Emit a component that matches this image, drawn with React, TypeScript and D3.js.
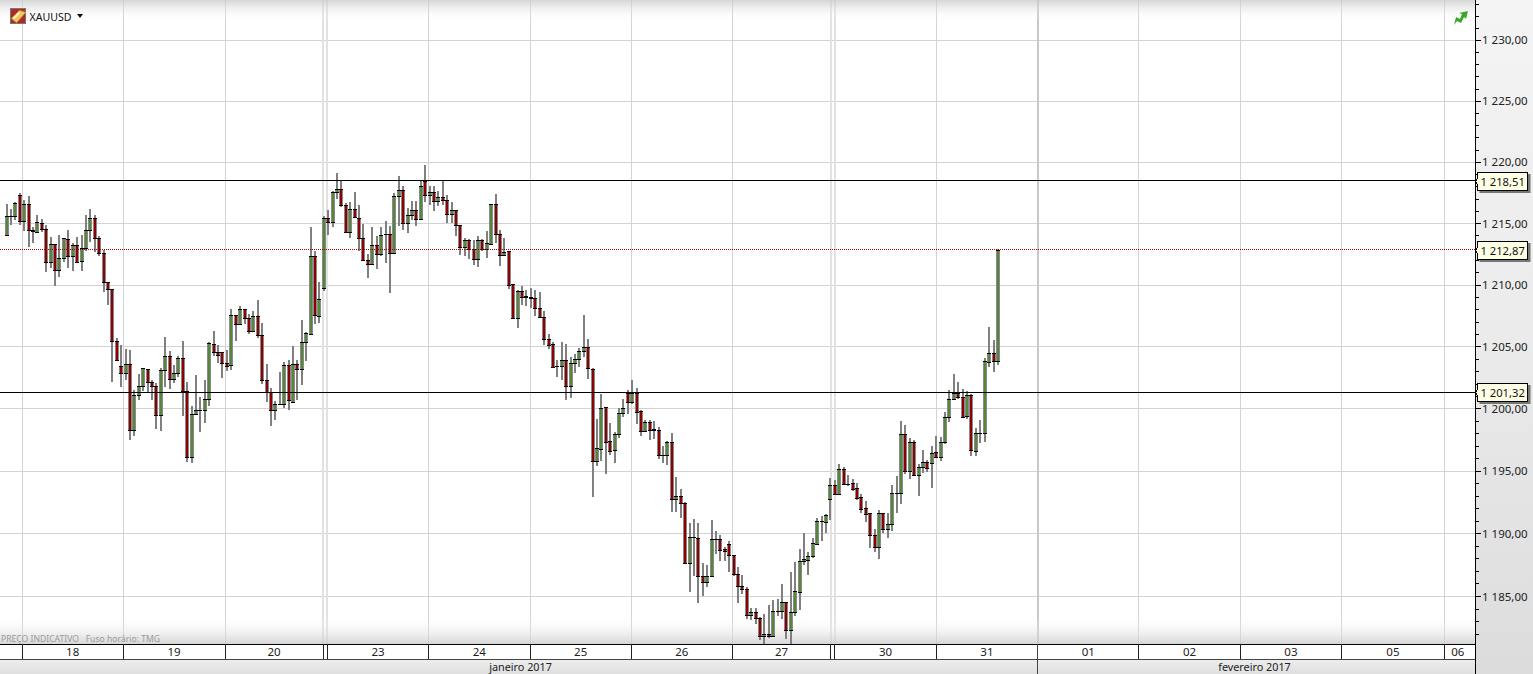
import { useEffect, useRef } from 'react'
import * as d3 from 'd3'

const width = 1533
const height = 674
const plotRight = 1475.5
const plotBottom = 644

// hourly candles, one slot per candle
const opens = [
  1214.07,1215.60,1215.58,1217.32,1215.18,1216.59,1214.47,1214.34,1215.07,1214.55,
  1211.84,1213.33,1211.22,1212.20,1213.74,1212.33,1213.25,1211.92,1213.00,1214.47,
  1215.45,1213.82,1212.60,1210.24,1209.70,1205.46,1203.47,1202.90,1203.63,1198.31,
  1201.13,1201.86,1203.23,1202.20,1201.86,1199.52,1203.15,1204.27,1202.39,1202.90,
  1204.11,1201.45,1196.10,1199.60,1199.92,1199.92,1200.81,1205.24,1204.60,1204.60,
  1203.71,1203.55,1207.58,1206.85,1208.06,1207.34,1206.29,1207.50,1205.97,1202.34,
  1201.32,1199.92,1200.40,1200.40,1203.55,1200.59,1203.63,1203.23,1205.40,1206.07,
  1212.36,1207.48,1209.76,1215.47,1215.09,1217.59,1217.80,1216.50,1214.28,1216.15,
  1215.45,1213.82,1212.03,1211.71,1213.25,1212.52,1214.12,1214.12,1212.57,1217.24,
  1217.72,1215.01,1215.69,1216.10,1215.37,1218.43,1217.32,1217.56,1216.80,1217.13,
  1216.96,1215.77,1216.10,1214.85,1213.06,1213.69,1212.93,1212.09,1213.66,1212.93,
  1213.33,1216.59,1214.15,1212.41,1212.74,1210.08,1207.30,1209.54,1209.09,1209.01,
  1208.92,1208.15,1207.39,1205.65,1205.24,1203.44,1203.44,1203.95,1201.83,1203.71,
  1204.03,1204.68,1205.00,1203.25,1195.78,1196.77,1200.13,1197.45,1196.69,1197.98,
  1199.68,1201.26,1200.56,1201.26,1199.87,1198.20,1198.95,1198.36,1198.33,1196.29,
  1196.29,1197.34,1192.75,1193.02,1192.43,1187.67,1189.71,1189.63,1186.60,1186.15,
  1186.66,1189.55,1189.55,1188.82,1189.17,1188.34,1186.82,1185.85,1185.61,1183.53,
  1183.77,1183.29,1181.84,1182.03,1181.84,1183.82,1183.82,1184.60,1182.33,1183.77,
  1185.37,1187.81,1187.94,1188.21,1189.22,1190.99,1190.91,1192.81,1193.88,1193.21,
  1195.16,1194.01,1194.04,1193.64,1192.91,1192.03,1191.63,1189.92,1188.96,1191.63,
  1190.35,1190.75,1193.24,1193.24,1197.97,1195.05,1197.33,1194.73,1195.37,1195.75,
  1195.64,1196.52,1196.10,1197.33,1199.35,1200.83,1201.24,1200.99,1199.41,1201.13,
  1196.61,1198.06,1198.06,1203.79,1204.52,1203.87,
]
const closes = [
  1215.61,1215.60,1216.64,1215.18,1216.59,1214.47,1214.40,1215.12,1214.55,1211.84,
  1213.33,1211.22,1212.20,1213.82,1212.33,1213.25,1211.84,1213.00,1214.47,1215.45,
  1213.79,1212.60,1210.24,1209.67,1205.46,1203.93,1202.88,1203.63,1198.28,1201.13,
  1201.86,1203.31,1202.15,1201.83,1199.49,1203.15,1204.27,1202.39,1202.90,1204.11,
  1201.43,1196.10,1199.60,1199.92,1199.92,1200.81,1205.30,1204.57,1204.33,1203.68,
  1203.49,1207.58,1206.85,1208.06,1207.31,1206.26,1207.50,1205.97,1202.34,1201.32,
  1199.92,1200.40,1200.40,1203.55,1200.73,1203.63,1203.23,1205.40,1206.13,1212.36,
  1207.56,1208.86,1215.47,1215.09,1217.59,1217.80,1216.50,1214.28,1216.15,1215.50,
  1213.79,1212.03,1211.71,1213.25,1212.52,1214.09,1214.12,1212.57,1217.24,1217.72,
  1215.01,1215.69,1216.10,1215.37,1218.05,1217.32,1217.56,1216.80,1217.13,1216.96,
  1215.77,1216.10,1214.85,1213.06,1213.69,1212.93,1212.11,1213.66,1212.93,1213.41,
  1216.59,1214.15,1212.41,1212.66,1210.03,1207.30,1209.54,1209.01,1209.01,1208.92,
  1208.15,1207.39,1205.62,1205.19,1203.41,1203.44,1203.95,1201.83,1203.71,1204.03,
  1204.68,1205.00,1203.28,1195.78,1196.86,1200.08,1197.31,1196.64,1197.98,1199.68,
  1200.05,1200.56,1201.26,1199.73,1198.20,1198.95,1198.31,1198.33,1196.26,1196.29,
  1197.31,1192.75,1193.02,1192.43,1187.67,1189.71,1189.71,1186.60,1186.15,1186.66,
  1189.55,1189.55,1188.74,1188.64,1188.34,1186.76,1185.85,1185.59,1183.53,1183.77,
  1183.29,1181.84,1182.03,1181.84,1183.85,1183.82,1184.60,1182.33,1183.77,1185.45,
  1187.81,1187.97,1188.21,1189.30,1191.02,1190.99,1191.50,1193.88,1193.21,1195.16,
  1193.98,1194.01,1193.61,1192.89,1192.00,1191.60,1189.92,1188.96,1191.63,1190.35,
  1190.75,1193.24,1193.24,1197.97,1195.05,1197.33,1194.73,1195.37,1195.72,1195.27,
  1196.44,1196.10,1197.33,1199.35,1200.81,1201.24,1200.94,1199.38,1201.13,1196.69,
  1198.06,1198.06,1203.82,1204.52,1203.84,1212.87,
]
const highs = [
  1216.59,1216.20,1216.72,1217.48,1216.91,1217.26,1214.74,1215.72,1215.37,1214.90,
  1213.93,1213.33,1214.09,1213.82,1214.47,1213.39,1213.93,1214.09,1215.72,1216.18,
  1215.72,1214.01,1212.87,1210.24,1209.70,1205.73,1205.13,1204.84,1204.76,1201.53,
  1202.82,1203.31,1203.23,1202.34,1202.12,1203.31,1205.83,1204.70,1203.50,1204.27,
  1205.51,1202.20,1200.27,1202.69,1200.94,1202.29,1205.38,1206.32,1205.19,1204.60,
  1204.76,1208.06,1207.58,1208.33,1208.06,1207.66,1207.88,1208.82,1206.94,1203.63,
  1201.69,1200.67,1203.01,1203.74,1203.90,1205.03,1203.90,1207.20,1206.18,1214.74,
  1212.79,1210.22,1215.64,1216.10,1217.62,1219.11,1218.43,1216.64,1216.72,1217.56,
  1216.53,1214.96,1212.52,1214.74,1214.01,1214.74,1215.18,1214.82,1217.53,1218.89,
  1218.08,1216.23,1216.86,1216.86,1218.43,1219.78,1218.08,1218.08,1217.67,1218.43,
  1217.34,1216.72,1216.10,1214.85,1213.82,1213.77,1213.66,1214.01,1213.74,1214.42,
  1216.59,1217.43,1214.50,1213.82,1212.74,1210.08,1209.58,1209.95,1209.62,1209.76,
  1209.60,1209.46,1207.88,1206.05,1205.38,1203.95,1205.43,1205.24,1204.22,1204.44,
  1204.92,1207.61,1205.65,1203.31,1199.19,1201.16,1200.13,1198.90,1198.12,1200.08,
  1200.81,1201.53,1202.29,1201.69,1199.92,1199.11,1199.14,1199.06,1198.52,1197.04,
  1197.39,1198.07,1194.52,1193.58,1192.57,1190.88,1191.15,1190.88,1187.70,1187.54,
  1191.10,1190.21,1189.89,1188.96,1189.41,1188.34,1187.35,1186.68,1185.80,1184.09,
  1184.09,1183.34,1183.61,1184.36,1184.73,1184.81,1186.02,1184.60,1186.95,1187.75,
  1188.82,1190.03,1188.56,1189.63,1191.28,1191.44,1191.58,1194.49,1194.30,1195.59,
  1195.37,1194.71,1194.36,1194.04,1193.18,1192.62,1191.63,1190.37,1191.90,1191.63,
  1191.63,1193.91,1194.63,1199.06,1198.72,1197.65,1197.51,1195.59,1196.66,1195.91,
  1197.03,1197.83,1197.78,1199.76,1201.53,1202.82,1202.18,1201.61,1201.48,1201.21,
  1198.47,1199.11,1204.11,1206.64,1205.57,1212.93,
]
const lows = [
  1214.07,1214.85,1215.28,1214.85,1214.42,1213.06,1213.39,1214.28,1214.34,1211.03,
  1211.36,1209.95,1210.62,1211.84,1211.36,1211.11,1211.76,1211.17,1212.74,1213.47,
  1212.66,1212.39,1209.43,1208.40,1202.15,1203.90,1201.75,1202.29,1197.53,1197.85,
  1200.75,1201.48,1201.26,1200.75,1198.41,1198.20,1201.80,1201.64,1202.12,1202.55,
  1199.46,1195.75,1195.67,1199.52,1198.17,1198.90,1200.27,1204.25,1203.68,1202.47,
  1203.09,1203.15,1205.46,1206.77,1206.85,1206.05,1206.26,1205.73,1202.02,1200.54,
  1198.60,1199.11,1200.40,1200.08,1199.92,1200.54,1200.75,1201.91,1203.82,1206.00,
  1206.83,1206.96,1209.49,1214.04,1214.69,1216.99,1216.31,1214.20,1213.79,1215.45,
  1212.74,1211.98,1210.54,1211.65,1211.27,1212.39,1211.76,1209.32,1212.52,1214.82,
  1214.50,1214.20,1215.28,1214.77,1215.34,1216.78,1216.53,1215.99,1216.42,1216.53,
  1215.01,1215.04,1214.01,1212.44,1212.36,1212.11,1211.63,1211.49,1212.79,1212.17,
  1213.28,1213.44,1211.52,1212.39,1209.68,1207.29,1206.50,1208.41,1208.33,1208.15,
  1207.53,1207.37,1205.11,1204.81,1203.28,1202.55,1202.29,1200.75,1200.86,1202.88,
  1203.36,1204.22,1202.37,1192.93,1195.38,1195.78,1194.81,1196.32,1195.62,1197.66,
  1199.33,1199.60,1200.40,1198.76,1197.80,1198.15,1197.50,1197.58,1195.94,1195.62,
  1195.51,1191.76,1191.76,1191.23,1187.62,1185.35,1186.63,1184.46,1185.03,1185.80,
  1186.55,1188.42,1187.83,1187.83,1186.95,1186.60,1184.46,1185.21,1183.26,1183.13,
  1182.86,1181.55,1181.26,1181.74,1181.79,1183.47,1183.20,1181.60,1181.20,1183.47,
  1183.96,1187.49,1186.68,1188.10,1189.14,1189.44,1190.03,1191.10,1193.15,1193.21,
  1193.96,1193.82,1193.45,1192.70,1191.68,1190.96,1188.88,1188.56,1187.97,1190.03,
  1189.68,1190.21,1191.63,1192.38,1194.79,1194.36,1194.71,1193.02,1194.89,1194.92,
  1193.66,1196.10,1195.78,1197.19,1198.92,1200.78,1200.81,1199.33,1199.19,1196.18,
  1196.24,1197.23,1197.31,1203.41,1202.96,1203.57,
]

const majorTicks = [1230, 1225, 1220, 1215, 1210, 1205, 1200, 1195, 1190, 1185]
const minorTicks = d3.range(1182, 1234)
const priceLines = [1218.51, 1201.32]
const lastPrice = 1212.87

// day separators, in candle slots
const dayEdges = [3.5, 26.5, 49.7, 71.9, 72.8, 95.8, 118.8, 141.8, 164.7, 187.1, 188, 211, 234, 257, 280, 303, 326.3]
const weekendEdges = [71.9, 72.8, 187.1, 188]
const monthEdge = 234
const dayLabels = [
  { label: '18', from: 3.5, to: 26.5 },
  { label: '19', from: 26.5, to: 49.5 },
  { label: '20', from: 49.5, to: 71.9 },
  { label: '23', from: 72.8, to: 95.8 },
  { label: '24', from: 95.8, to: 118.8 },
  { label: '25', from: 118.8, to: 141.8 },
  { label: '26', from: 141.8, to: 164.7 },
  { label: '27', from: 164.7, to: 187.1 },
  { label: '30', from: 188, to: 211 },
  { label: '31', from: 211, to: 234 },
  { label: '01', from: 234, to: 257 },
  { label: '02', from: 257, to: 280 },
  { label: '03', from: 280, to: 303 },
  { label: '05', from: 303, to: 326.3 },
  { label: '06', from: 326.3, to: 332.5 },
]

const numFmt = (v: number) => {
  const s = v.toFixed(2).replace('.', ',')
  return s.slice(0, 1) + ' ' + s.slice(1)
}

const FONT = '"Noto Sans", sans-serif'

export default function App() {
  const svgRef = useRef<SVGSVGElement>(null)

  useEffect(() => {
    if (!svgRef.current) return
    const svg = d3.select(svgRef.current)
    svg.selectAll('*').remove()

    const x = d3.scaleLinear().domain([-1.5, 333.4]).range([0, plotRight])
    const y = d3.scaleLog().domain([1181.2, 1233.3]).range([plotBottom + 0.5, 0.5])

    const defs = svg.append('defs')
    const grad = (id: string, stops: [number, string, number][]) => {
      const g = defs.append('linearGradient').attr('id', id).attr('x1', 0).attr('x2', 0).attr('y1', 0).attr('y2', 1)
      stops.forEach(([o, c, a]) => g.append('stop').attr('offset', o).attr('stop-color', c).attr('stop-opacity', a))
    }
    grad('topFade', [[0, '#c8c8c8', 0.75], [1, '#ffffff', 0]])
    grad('bottomFade', [[0, '#ffffff', 0], [1, '#c8c8c8', 0.75]])
    grad('panel', [[0, '#f4f4f4', 1], [0.5, '#ebebeb', 1], [1, '#dcdcdc', 1]])
    grad('monthRow', [[0, '#eeeeee', 1], [1, '#dfdfdf', 1]])

    svg.append('rect').attr('width', width).attr('height', height).attr('fill', '#fff')

    // grid
    const grid = svg.append('g').attr('shape-rendering', 'crispEdges')
    grid.selectAll('.h').data(majorTicks).enter().append('line')
      .attr('x1', 0).attr('x2', plotRight)
      .attr('y1', d => y(d)).attr('y2', d => y(d))
      .attr('stroke', '#d2d2d2')
    grid.selectAll('.v').data(dayEdges).enter().append('line')
      .attr('x1', d => x(d)).attr('x2', d => x(d))
      .attr('y1', 0).attr('y2', plotBottom)
      .attr('stroke', d => weekendEdges.includes(d) ? '#e2e2e2' : '#d2d2d2')
      .attr('stroke-width', d => weekendEdges.includes(d) ? 2 : 1)
    grid.append('line')
      .attr('x1', x(monthEdge)).attr('x2', x(monthEdge))
      .attr('y1', 0).attr('y2', plotBottom)
      .attr('stroke', '#c8c8c8').attr('stroke-width', 2)

    svg.append('rect').attr('width', plotRight).attr('height', 22).attr('fill', 'url(#topFade)')
    svg.append('rect').attr('y', 616).attr('width', plotRight).attr('height', plotBottom - 616).attr('fill', 'url(#bottomFade)')

    // candles
    const candles = svg.append('g').attr('shape-rendering', 'crispEdges')
    const idx = d3.range(opens.length)
    const cx = (i: number) => Math.round(x(i))
    candles.selectAll('.wick').data(idx).enter().append('rect')
      .attr('x', i => cx(i) - 1).attr('width', 2)
      .attr('y', i => y(highs[i]))
      .attr('height', i => Math.max(1, y(lows[i]) - y(highs[i])))
      .attr('fill', '#808080')
    candles.selectAll('.body').data(idx).enter().append('rect')
      .attr('x', i => cx(i) - 2).attr('width', 4)
      .attr('y', i => y(Math.max(opens[i], closes[i])))
      .attr('height', i => Math.abs(y(opens[i]) - y(closes[i])))
      .attr('fill', '#8a8a8a')
    candles.selectAll('.fill').data(idx).enter().append('rect')
      .attr('x', i => cx(i) - 1).attr('width', 2)
      .attr('y', i => y(Math.max(opens[i], closes[i])))
      .attr('height', i => Math.abs(y(opens[i]) - y(closes[i])))
      .attr('fill', i => closes[i] >= opens[i] ? '#55873a' : '#8b0000')
    const caps = idx.flatMap(i => [opens[i], closes[i]].map(v => ({ i, v })))
    candles.selectAll('.cap').data(caps).enter().append('rect')
      .attr('x', d => cx(d.i) - 2).attr('width', 4)
      .attr('y', d => Math.round(y(d.v))).attr('height', 1)
      .attr('fill', '#000')

    // price lines
    svg.append('g').attr('shape-rendering', 'crispEdges')
      .selectAll('line').data(priceLines).enter().append('line')
      .attr('x1', 0).attr('x2', plotRight)
      .attr('y1', d => y(d)).attr('y2', d => y(d))
      .attr('stroke', '#000')
    svg.append('line')
      .attr('shape-rendering', 'crispEdges')
      .attr('x1', 0).attr('x2', plotRight)
      .attr('y1', y(lastPrice)).attr('y2', y(lastPrice))
      .attr('stroke', '#a80000').attr('stroke-dasharray', '1 1')

    // right panel
    svg.append('rect').attr('x', plotRight).attr('width', width - plotRight).attr('height', height).attr('fill', 'url(#panel)')
    const axisG = svg.append('g').attr('shape-rendering', 'crispEdges')
    axisG.selectAll('.minor').data(minorTicks).enter().append('line')
      .attr('x1', plotRight).attr('x2', plotRight + 3)
      .attr('y1', d => y(d)).attr('y2', d => y(d))
      .attr('stroke', '#000')
    axisG.selectAll('.major').data(majorTicks).enter().append('line')
      .attr('x1', plotRight).attr('x2', plotRight + 5)
      .attr('y1', d => y(d)).attr('y2', d => y(d))
      .attr('stroke', '#000')
    svg.selectAll('.ylab').data(majorTicks).enter().append('text')
      .attr('x', 1482).attr('y', d => y(d) + 4)
      .style('font-family', FONT).style('font-size', '11.5px').attr('fill', '#222')
      .text(d => numFmt(d))

    // bottom axis
    const bottom = svg.append('g').attr('shape-rendering', 'crispEdges')
    bottom.append('rect').attr('y', plotBottom).attr('width', plotRight).attr('height', 15).attr('fill', '#fff')
    bottom.append('rect').attr('y', 659).attr('width', plotRight).attr('height', 15).attr('fill', 'url(#monthRow)')
    bottom.append('line').attr('x1', 0).attr('x2', plotRight).attr('y1', plotBottom + 0.5).attr('y2', plotBottom + 0.5).attr('stroke', '#000')
    bottom.append('line').attr('x1', 0).attr('x2', plotRight).attr('y1', 659.5).attr('y2', 659.5).attr('stroke', '#444')
    bottom.selectAll('.sep').data(dayEdges).enter().append('line')
      .attr('x1', d => x(d)).attr('x2', d => x(d))
      .attr('y1', plotBottom).attr('y2', 659)
      .attr('stroke', '#222')
    bottom.append('line').attr('x1', x(monthEdge)).attr('x2', x(monthEdge)).attr('y1', plotBottom).attr('y2', height).attr('stroke', '#444')
    bottom.append('line').attr('x1', plotRight).attr('x2', plotRight).attr('y1', 0).attr('y2', height).attr('stroke', '#000')

    svg.selectAll('.day').data(dayLabels).enter().append('text')
      .attr('x', d => x((d.from + d.to) / 2)).attr('y', 656)
      .attr('text-anchor', 'middle')
      .style('font-family', FONT).style('font-size', '11.5px').attr('fill', '#222')
      .text(d => d.label)
    svg.append('text').attr('x', 520.5).attr('y', 671).attr('text-anchor', 'middle')
      .style('font-family', FONT).style('font-size', '10.8px').attr('fill', '#222').text('janeiro 2017')
    svg.append('text').attr('x', 1254.5).attr('y', 671).attr('text-anchor', 'middle')
      .style('font-family', FONT).style('font-size', '10.8px').attr('fill', '#222').text('fevereiro 2017')

    // price labels
    const tags = svg.append('g')
    ;[...priceLines, lastPrice].forEach(p => {
      const py = Math.round(y(p))
      const tag = tags.append('g').attr('transform', `translate(1477.5,${py + 0.5})`)
      tag.append('rect').attr('x', 2).attr('y', -7.5).attr('width', 51).attr('height', 19).attr('fill', '#777')
      tag.append('path')
        .attr('d', 'M0,-9 H50 V9 H0 V3 L-2,0 L0,-3 Z')
        .attr('fill', '#ffffe6').attr('stroke', '#000').attr('shape-rendering', 'crispEdges')
      tag.append('text').attr('x', 3).attr('y', 4)
        .style('font-family', FONT).style('font-size', '11.2px').attr('fill', '#111')
        .text(numFmt(p))
    })

    // header
    const icon = svg.append('g').attr('transform', 'translate(10.5,8.5)')
    icon.append('rect').attr('width', 15).attr('height', 15).attr('fill', '#b02a2a').attr('stroke', '#777')
    icon.append('path').attr('d', 'M1,10 L9,2 L15,4 L6,14 Z').attr('fill', '#f0c860').attr('stroke', '#e0a030')
    icon.append('path').attr('d', 'M3,10 L9,4').attr('stroke', '#fff3c0').attr('stroke-width', 2)
    svg.append('text').attr('x', 29.5).attr('y', 21)
      .style('font-family', FONT).style('font-size', '10.6px').attr('fill', '#111').text('XAUUSD')
    svg.append('path').attr('d', 'M77,14 H83 L80,18 Z').attr('fill', '#111')
    svg.append('path').attr('d', 'M1454,25 L1456,17 L1460,19 L1462,14 L1459,13 L1468,11 L1466,19 L1464,17 L1461,23 L1457,21 Z').attr('fill', '#3aa52b')

    svg.append('text').attr('x', 1).attr('y', 642)
      .attr('xml:space', 'preserve')
      .style('font-family', FONT).style('font-size', '8.6px').attr('fill', '#9a9a9a')
      .text('PREÇO INDICATIVO   Fuso horário: TMG')
  }, [])

  return (
    <div style={{ position: 'fixed', left: 0, top: 0, width, height, overflow: 'hidden' }}>
      <svg ref={svgRef} width={width} height={height} style={{ display: 'block' }} />
    </div>
  )
}
